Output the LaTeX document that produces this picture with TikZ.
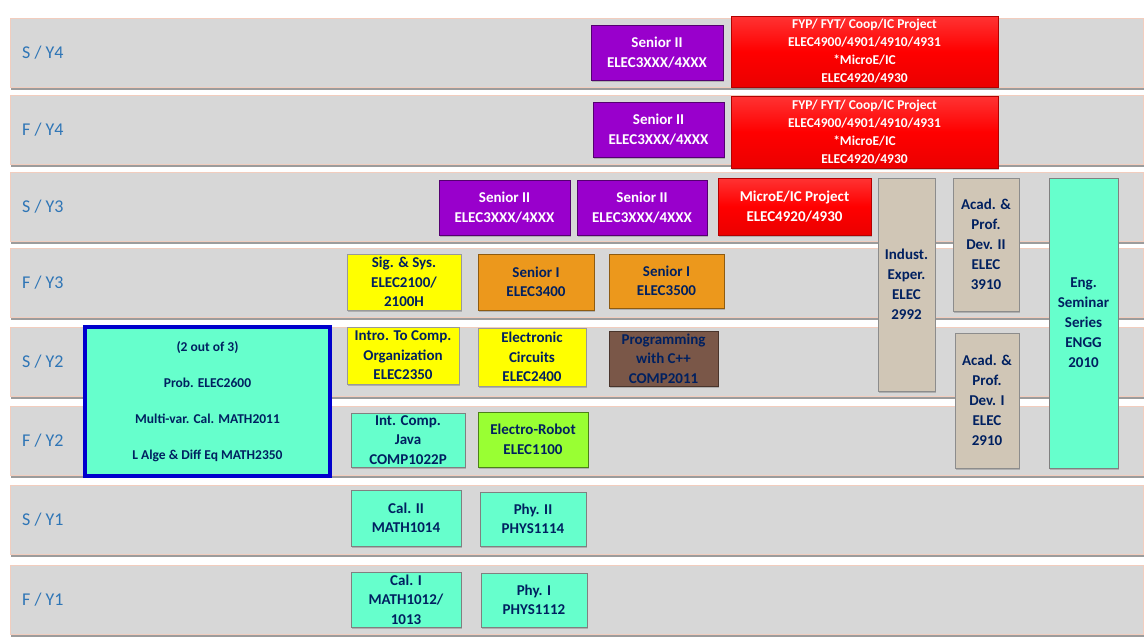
\documentclass[tikz,border=0pt]{standalone}
\usepackage{fontspec}
\setmainfont{Carlito}
\usetikzlibrary{shadows}
\definecolor{bandgray}{RGB}{215,215,215}
\definecolor{bandedge}{RGB}{242,205,190}
\definecolor{rowlbl}{RGB}{46,117,182}
\definecolor{navy}{RGB}{0,32,96}
\definecolor{purp}{RGB}{153,0,204}
\definecolor{aqua}{RGB}{102,255,204}
\definecolor{tanbox}{RGB}{208,198,182}
\definecolor{orng}{RGB}{236,152,28}
\definecolor{brwn}{RGB}{122,87,72}
\definecolor{lgreen}{RGB}{153,255,51}
\definecolor{yel}{RGB}{255,255,0}
\definecolor{bigblue}{RGB}{0,0,204}
\newcommand\cbox[7]{\node[#6, minimum width={(#4-#2)*1pt}, minimum height={(#5-#3)*1pt}] (#1) at ({(#2+#4)/2},{-(#3+#5)/2}) {#7};}
\newcommand\rowband[3]{%
  \node[band, minimum width=1133pt, minimum height=69pt] (#1) at (576.5,{-(#2+34.5)}) {};
  \node[rowlabel, anchor=west] (#1lbl) at (22,{-(#2+34.5)}) {#3};}
\tikzset{
  band/.style={draw=bandedge, fill=bandgray, line width=0.8pt, inner sep=0pt,
    drop shadow={shadow xshift=0.5pt, shadow yshift=-2.5pt, opacity=0.55, fill=black!70}},
  rowlabel/.style={text=rowlbl, font=\fontsize{18}{20}\selectfont, inner sep=0pt},
  cbase/.style={inner sep=0pt, align=center, font=\bfseries\fontsize{15}{19.5}\selectfont,
    text=navy, draw=black!55, line width=0.6pt,
    drop shadow={shadow xshift=1.2pt, shadow yshift=-1.5pt, opacity=0.45}},
  senior2/.style={cbase, fill=purp, text=white, draw=purp!55!black},
  proj/.style={cbase, top color=red!80!white, bottom color=red!92!black, middle color=red, text=white, draw=red!70!black},
  fyp/.style={proj, font=\bfseries\fontsize{13.5}{18}\selectfont},
  tanb/.style={cbase, fill=tanbox, draw=black!45, font=\bfseries\fontsize{15}{20}\selectfont},
  aquab/.style={cbase, fill=aqua, draw=black!50},
  yelb/.style={cbase, fill=yel, draw=black!40},
  orngb/.style={cbase, fill=orng, draw=orng!60!black},
  brwnb/.style={cbase, fill=brwn, draw=brwn!60!black},
  greenb/.style={cbase, fill=lgreen, draw=lgreen!50!black},
  bigb/.style={cbase, fill=aqua, draw=bigblue, line width=3.5pt, font=\bfseries\fontsize{13.5}{36}\selectfont,
    drop shadow={shadow xshift=2pt, shadow yshift=-2pt, opacity=0.5}}
}
\begin{document}
\begin{tikzpicture}[x=1pt,y=1pt]
\useasboundingbox (0,0) rectangle (1148,-643);
\fill[white] (0,0) rectangle (1148,-643);
% row bands
\rowband{rA}{18}{S / Y4}
\rowband{rB}{95}{F / Y4}
\rowband{rC}{172}{S / Y3}
\rowband{rD}{248}{F / Y3}
\rowband{rE}{327}{S / Y2}
\rowband{rF}{406}{F / Y2}
\rowband{rG}{485}{S / Y1}
\rowband{rH}{565}{F / Y1}
% S / Y4
\cbox{sa}{591}{25}{723}{80}{senior2}{Senior II\\ELEC3XXX/4XXX}
\cbox{fa}{731}{16}{998}{87}{fyp}{FYP/ FYT/ Coop/IC Project\\ELEC4900/4901/4910/4931\\*MicroE/IC\\ELEC4920/4930}
% F / Y4
\cbox{sb}{593}{102}{724}{157}{senior2}{Senior II\\ELEC3XXX/4XXX}
\cbox{fb}{731}{96}{998}{168}{fyp}{FYP/ FYT/ Coop/IC Project\\ELEC4900/4901/4910/4931\\*MicroE/IC\\ELEC4920/4930}
% S / Y3
\cbox{sc1}{439}{180}{570}{235}{senior2}{Senior II\\ELEC3XXX/4XXX}
\cbox{sc2}{577}{180}{707}{235}{senior2}{Senior II\\ELEC3XXX/4XXX}
\cbox{mp}{718}{178}{871}{235}{proj}{MicroE/IC Project\\ELEC4920/4930}
\cbox{ind}{878}{178}{935}{391}{tanb}{Indust.\\Exper.\\ELEC\\2992}
\cbox{apd2}{953}{178}{1019}{311}{tanb}{Acad. \&\\Prof.\\Dev. II\\ELEC\\3910}
\cbox{eng}{1049}{178}{1118}{468}{aquab, font=\bfseries\fontsize{15}{20}\selectfont}{Eng.\\Seminar\\Series\\ENGG\\2010}
\cbox{apd1}{955}{333}{1019}{468}{tanb}{Acad. \&\\Prof.\\Dev. I\\ELEC\\2910}
% F / Y3
\cbox{sig}{347}{254}{461}{310}{yelb}{Sig. \& Sys.\\ELEC2100/\\2100H}
\cbox{s34}{478}{254}{594}{310}{orngb}{Senior I\\ELEC3400}
\cbox{s35}{609}{254}{724}{308}{orngb}{Senior I\\ELEC3500}
% S / Y2
\cbox{big}{85}{327}{330}{476}{bigb}{(2 out of 3)\\Prob. ELEC2600\\Multi-var. Cal. MATH2011\\L Alge \& Diff Eq MATH2350}
\cbox{ico}{347}{327}{459}{384}{yelb}{Intro. To Comp.\\Organization\\ELEC2350}
\cbox{ec}{478}{328}{586}{386}{yelb}{Electronic\\Circuits\\ELEC2400}
\cbox{cpp}{609}{331}{718}{386}{brwnb}{Programming\\with C++\\COMP2011}
% F / Y2
\cbox{java}{351}{413}{465}{467}{aquab}{Int. Comp.\\Java\\COMP1022P}
\cbox{robot}{478}{412}{588}{467}{greenb}{Electro-Robot\\ELEC1100}
% S / Y1
\cbox{cal2}{351}{490}{461}{546}{aquab}{Cal. II\\MATH1014}
\cbox{phy2}{480}{492}{586}{546}{aquab}{Phy. II\\PHYS1114}
% F / Y1
\cbox{cal1}{351}{572}{461}{627}{aquab}{Cal. I\\MATH1012/\\1013}
\cbox{phy1}{481}{573}{587}{627}{aquab}{Phy. I\\PHYS1112}
\end{tikzpicture}
\end{document}
